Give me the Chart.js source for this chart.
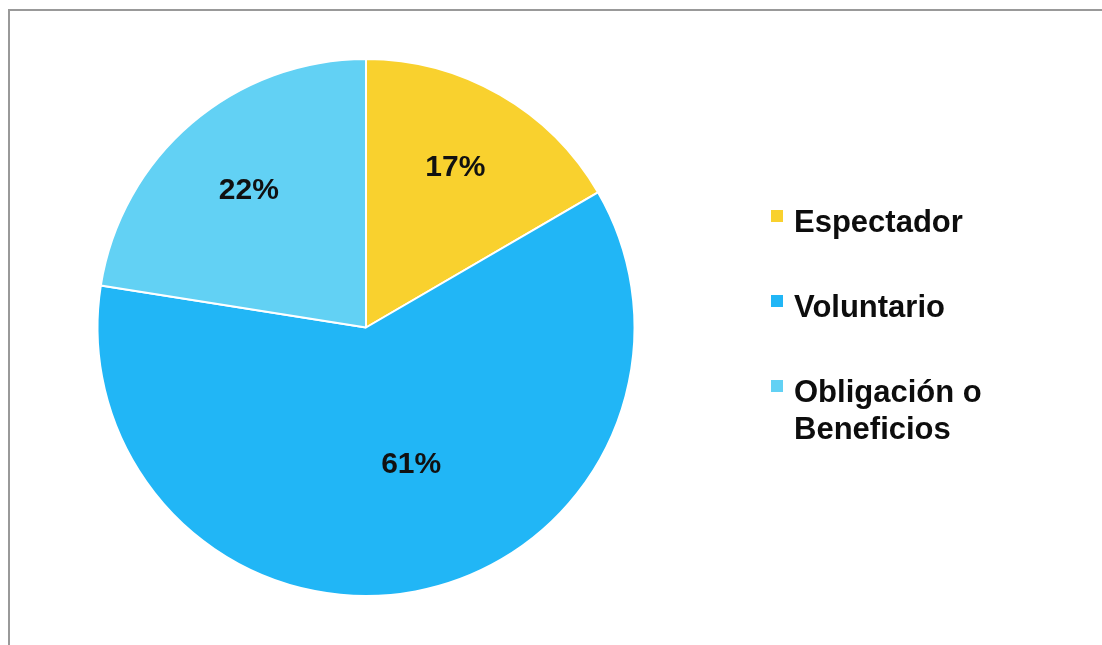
<!DOCTYPE html>
<html>
<head>
<meta charset="utf-8">
<script src="https://cdn.jsdelivr.net/npm/chart.js@4.4.0/dist/chart.umd.min.js"></script>
<style>
  html, body { margin: 0; padding: 0; background: #ffffff; }
  #wrap { position: relative; width: 1102px; height: 645px; overflow: hidden; background: #ffffff; }
  #frame { position: absolute; left: 8px; top: 9px; right: -10px; bottom: -10px;
           border-top: 2px solid #999999; border-left: 2px solid #999999; }
  canvas { position: absolute; left: 0; top: 0; }
</style>
</head>
<body>
<div id="wrap">
  <div id="frame"></div>
  <canvas id="c" width="1102" height="645"></canvas>
</div>
<script>
// ---- data ----
const categories = ["Espectador", "Voluntario", ["Obligación o", "Beneficios"]];
const values = [16.6, 60.9, 22.5];
const valueLabels = ["17%", "61%", "22%"];
const colors = ["#F9D12E", "#21B6F6", "#62D1F4"];

const FONT = "'Liberation Sans', Arial, Helvetica, sans-serif";

// per-slice label placement (fraction of radius, angular shift in degrees)
const labelPlacement = { radius: [0.682, 0.538, 0.672], shiftDeg: [-0.7, -7.6, 0] };

const sliceLabels = {
  id: 'sliceLabels',
  afterDatasetsDraw(chart) {
    const ctx = chart.ctx;
    const meta = chart.getDatasetMeta(0);
    ctx.save();
    ctx.font = "bold 30px " + FONT;
    ctx.fillStyle = "#111111";
    ctx.textAlign = "center";
    ctx.textBaseline = "middle";
    meta.data.forEach((arc, i) => {
      const p = arc.getProps(['x', 'y', 'startAngle', 'endAngle', 'outerRadius'], true);
      const mid = (p.startAngle + p.endAngle) / 2 + labelPlacement.shiftDeg[i] * Math.PI / 180;
      const r = p.outerRadius * labelPlacement.radius[i];
      ctx.fillText(valueLabels[i], p.x + Math.cos(mid) * r, p.y + Math.sin(mid) * r);
    });
    ctx.restore();
  }
};

const sideLegend = {
  id: 'sideLegend',
  afterDraw(chart) {
    const ctx = chart.ctx;
    const x0 = 771, box = 12, textX = 794;
    const firstBaseline = 232, itemGap = 85, lineGap = 37;
    ctx.save();
    ctx.font = "bold 31px " + FONT;
    ctx.textAlign = "left";
    ctx.textBaseline = "alphabetic";
    chart.data.labels.forEach((lab, i) => {
      const lines = Array.isArray(lab) ? lab : [lab];
      const base = firstBaseline + i * itemGap;
      ctx.fillStyle = chart.data.datasets[0].backgroundColor[i];
      ctx.fillRect(x0, base - 22, box, box);
      ctx.fillStyle = "#0d0d0d";
      lines.forEach((ln, j) => ctx.fillText(ln, textX, base + j * lineGap));
    });
    ctx.restore();
  }
};

new Chart(document.getElementById('c'), {
  type: 'pie',
  data: {
    labels: categories,
    datasets: [{
      data: values,
      backgroundColor: colors,
      borderColor: "#ffffff",
      borderWidth: 2
    }]
  },
  options: {
    responsive: false,
    animation: false,
    layout: { padding: { top: 58, bottom: 48, left: 96, right: 466 } },
    plugins: {
      legend: { display: false },
      tooltip: { enabled: false }
    }
  },
  plugins: [sliceLabels, sideLegend]
});
</script>
</body>
</html>
